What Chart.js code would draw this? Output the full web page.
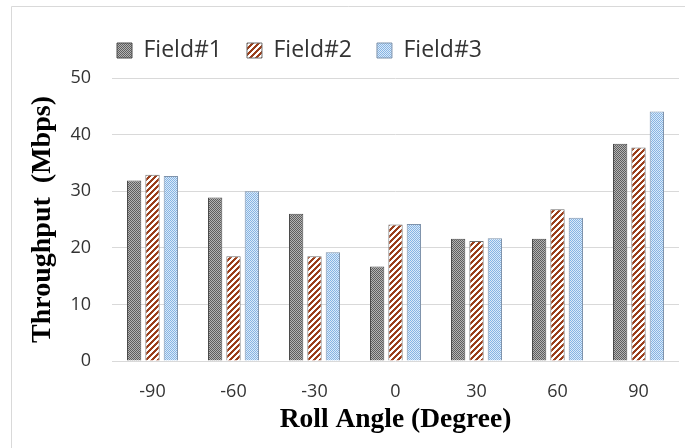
<!DOCTYPE html>
<html>
<head>
<meta charset="utf-8">
<script src="https://cdn.jsdelivr.net/npm/chart.js@4/dist/chart.umd.min.js"></script>
<style>
  html, body { margin: 0; padding: 0; background: #fff; }
  canvas { display: block; }
</style>
</head>
<body>
<canvas id="c" width="685" height="448"></canvas>
<script>
// Roll angle categories (degrees)
const angles = ['-90', '-60', '-30', '0', '30', '60', '90'];

// Throughput per field (Mbps)
const field1 = [31.9, 28.9, 26.0, 16.7, 21.6, 21.6, 38.4];
const field2 = [32.9, 18.5, 18.5, 24.1, 21.2, 26.8, 37.7];
const field3 = [32.7, 30.0, 19.2, 24.2, 21.7, 25.3, 44.1];

const seriesNames = ['Field#1', 'Field#2', 'Field#3'];
const yTicks = [0, 10, 20, 30, 40, 50];

const canvas = document.getElementById('c');
const ctx = canvas.getContext('2d');

// Small repeating fills for the bars
function makePattern(size, paint) {
  const t = document.createElement('canvas');
  t.width = size; t.height = size;
  const g = t.getContext('2d');
  paint(g, size);
  return ctx.createPattern(t, 'repeat');
}

// grey checkerboard
const checkerFill = makePattern(4, (g, n) => {
  for (let y = 0; y < n; y++) for (let x = 0; x < n; x++) {
    g.fillStyle = ((x + y) % 2 === 0) ? '#5e5e5e' : '#b4b4b4';
    g.fillRect(x, y, 1, 1);
  }
});

// brown upward diagonal stripes
const stripeFill = makePattern(6, (g, n) => {
  for (let y = 0; y < n; y++) for (let x = 0; x < n; x++) {
    g.fillStyle = ((x + y) % 6 < 3) ? '#9a3f1c' : '#ffffff';
    g.fillRect(x, y, 1, 1);
  }
});

// light blue dots
const dotFill = makePattern(4, (g, n) => {
  for (let y = 0; y < n; y++) for (let x = 0; x < n; x++) {
    g.fillStyle = ((x + y) % 2 === 0) ? '#86b4e4' : '#dbeaf8';
    g.fillRect(x, y, 1, 1);
  }
});

// thin frame along the top and left edges
const framePlugin = {
  id: 'frame',
  beforeDraw(chart) {
    const g = chart.ctx;
    g.save();
    g.strokeStyle = '#d9d9d9';
    g.lineWidth = 1;
    g.beginPath();
    g.moveTo(11.5, 448);
    g.lineTo(11.5, 6.5);
    g.lineTo(685, 6.5);
    g.stroke();
    g.restore();
  }
};

// fixed legend band height and placement
const LEGEND_BAND = 78;
const legendPlacement = {
  id: 'legendPlacement',
  beforeLayout(chart) {
    const lg = chart.legend;
    if (lg && !lg._bandFit) {
      const fit = lg.fit;
      lg.fit = function () { fit.call(this); this.height = LEGEND_BAND; };
      lg._bandFit = true;
    }
  },
  afterLayout(chart) {
    const lg = chart.legend;
    if (!lg) return;
    const w = lg.right - lg.left;
    lg.left = 92; lg.right = 92 + w;
    lg.top = 14; lg.bottom = 14 + LEGEND_BAND;
  }
};

const tickFont = { family: 'Open Sans', size: 18 };
const titleFont = { family: 'Liberation Serif', weight: 'bold' };

new Chart(ctx, {
  type: 'bar',
  data: {
    labels: angles,
    datasets: [
      { label: seriesNames[0], data: field1, backgroundColor: checkerFill, borderColor: '#4a4a4a', borderWidth: 1 },
      { label: seriesNames[1], data: field2, backgroundColor: stripeFill, borderColor: '#6e6e6e', borderWidth: 1 },
      { label: seriesNames[2], data: field3, backgroundColor: dotFill, borderColor: '#7f93ab', borderWidth: 1 }
    ]
  },
  options: {
    responsive: false,
    animation: false,
    devicePixelRatio: 1,
    layout: { padding: { left: 0, right: 6, top: 0, bottom: 0 } },
    datasets: { bar: { categoryPercentage: 0.68, barPercentage: 0.78 } },
    plugins: {
      legend: {
        position: 'top',
        align: 'start',
        labels: {
          boxWidth: 15,
          boxHeight: 15,
          padding: 25,
          color: '#333333',
          font: { family: 'Open Sans', size: 23 }
        }
      },
      tooltip: { enabled: false }
    },
    scales: {
      x: {
        grid: { display: false },
        border: { display: false },
        ticks: { font: tickFont, color: '#333333', padding: 12.5 },
        title: {
          display: true,
          text: 'Roll Angle (Degree)',
          color: '#000',
          font: Object.assign({ size: 27.5 }, titleFont),
          padding: { top: 0, bottom: 12 }
        },
        afterFit(s) { s.height = 87; }
      },
      y: {
        min: 0,
        max: 50,
        afterBuildTicks(s) { s.ticks = yTicks.map(v => ({ value: v })); },
        ticks: { font: tickFont, color: '#333333', padding: 21 },
        grid: { color: '#d9d9d9', lineWidth: 1, drawTicks: false },
        border: { display: false },
        title: {
          display: true,
          text: 'Throughput  (Mbps)',
          color: '#000',
          font: Object.assign({ size: 28 }, titleFont),
          padding: { top: 26, bottom: 0 }
        },
        afterFit(s) { s.width = 112; }
      }
    }
  },
  plugins: [framePlugin, legendPlacement]
});
</script>
</body>
</html>
